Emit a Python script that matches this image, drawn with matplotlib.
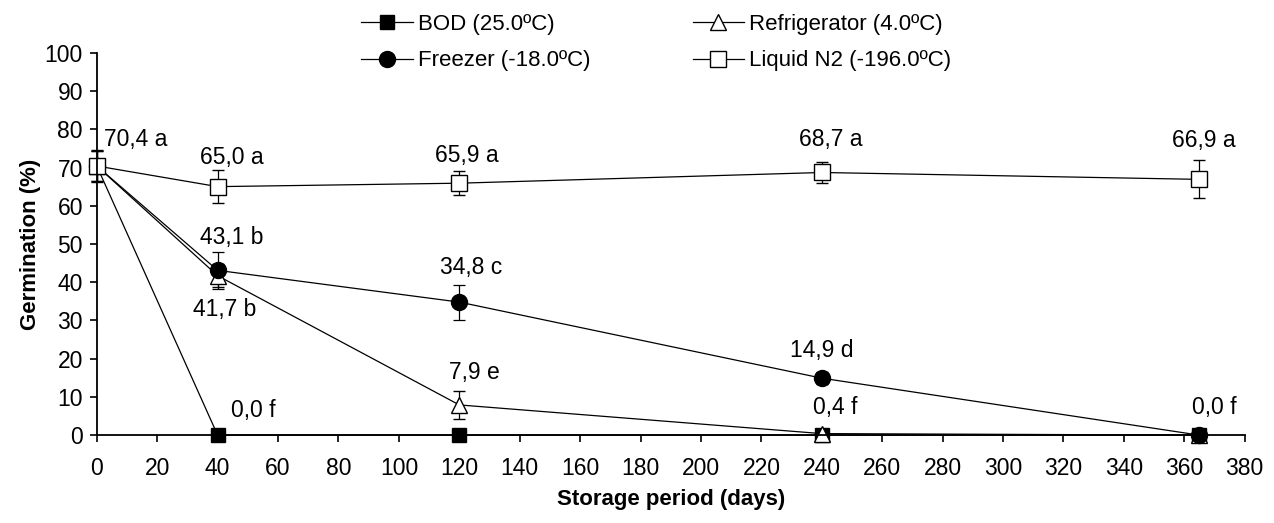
import matplotlib
matplotlib.use("Agg")
import matplotlib.pyplot as plt
from matplotlib.lines import Line2D

plt.rcParams['font.family'] = ['Liberation Sans', 'DejaVu Sans']

days = [0, 40, 120, 240, 365]

bod = [70.4, 0.0, 0.0, 0.0, 0.0]
bod_err = [0, 0, 0, 0, 0]
fridge = [70.4, 41.7, 7.9, 0.4, 0.0]
fridge_err = [4.0, 3.0, 3.7, 0.5, 0.3]
freezer = [70.4, 43.1, 34.8, 14.9, 0.0]
freezer_err = [4.0, 4.8, 4.6, 1.5, 0.3]
liquid_n2 = [70.4, 65.0, 65.9, 68.7, 66.9]
n2_err = [4.3, 4.4, 3.1, 2.8, 5.0]

labels_bod = [None, "0,0 f", None, None, None]
labels_fridge = [None, "41,7 b", "7,9 e", "0,4 f", None]
labels_freezer = [None, "43,1 b", "34,8 c", "14,9 d", "0,0 f"]
labels_n2 = ["70,4 a", "65,0 a", "65,9 a", "68,7 a", "66,9 a"]

fig = plt.figure(figsize=(12.74, 5.23), dpi=100)
ax = fig.add_axes([0.076, 0.168, 0.901, 0.731])

common = dict(color='black', lw=0.9, ecolor='black', elinewidth=0.9,
              capsize=4.5, capthick=0.9, clip_on=False)

styles = [
    ('BOD (25.0ºC)', bod, bod_err, dict(marker='s', ms=10.5, mfc='black', mec='black')),
    ('Refrigerator (4.0ºC)', fridge, fridge_err, dict(marker='^', ms=12, mfc='white', mec='black', mew=1.0)),
    ('Freezer (-18.0ºC)', freezer, freezer_err, dict(marker='o', ms=11.5, mfc='black', mec='black')),
    ('Liquid N2 (-196.0ºC)', liquid_n2, n2_err, dict(marker='s', ms=11.5, mfc='white', mec='black', mew=1.0)),
]
handles = {}
for name, vals, err, st in styles:
    h = ax.errorbar(days, vals, yerr=err, **st, **common)
    for part in h.lines[1] + tuple(h.lines[2]):
        part.set_clip_on(False)
    handles[name] = Line2D([], [], color='black', lw=0.9, **st)

# text offsets in pixels (x, y)
off_bod = [None, (36, 25), None, None, None]
off_fridge = [None, (7, -34), (15, 32), (13, 26), None]
off_freezer = [None, (14, 33), (12, 35), (0, 28), (15, 28)]
off_n2 = [(39, 26), (14, 29), (8, 28), (9, 33), (4, 39)]

for vals, labs, offs in [(bod, labels_bod, off_bod), (fridge, labels_fridge, off_fridge),
                         (freezer, labels_freezer, off_freezer), (liquid_n2, labels_n2, off_n2)]:
    for x, y, t, o in zip(days, vals, labs, offs):
        if t is None:
            continue
        ax.annotate(t, (x, y), xytext=o, textcoords='offset pixels',
                    ha='center', va='center', fontsize=16.5)

ax.set_xlim(0, 380)
ax.set_ylim(0, 100)
ax.set_xticks(range(0, 381, 20))
ax.set_yticks(range(0, 101, 10))
ax.tick_params(labelsize=16.5, direction='out', length=5, width=1.2)
ax.tick_params(axis='x', pad=11)
ax.tick_params(axis='y', pad=5)
ax.spines['top'].set_visible(False)
ax.spines['right'].set_visible(False)
ax.spines['left'].set_linewidth(1.3)
ax.spines['bottom'].set_linewidth(1.3)

ax.set_xlabel('Storage period (days)', fontsize=16, fontweight='bold', labelpad=6)
ax.set_ylabel('Germination (%)', fontsize=16, fontweight='bold', labelpad=3)

order = ['BOD (25.0ºC)', 'Freezer (-18.0ºC)', 'Refrigerator (4.0ºC)', 'Liquid N2 (-196.0ºC)']
fig.legend([handles[k] for k in order], order, ncol=2, frameon=False, fontsize=16,
           loc='upper left', bbox_to_anchor=(0.268, 1.012), handlelength=2.3,
           handletextpad=0.25, columnspacing=4.6, labelspacing=0.7)

fig.savefig('out.png', dpi=100)
